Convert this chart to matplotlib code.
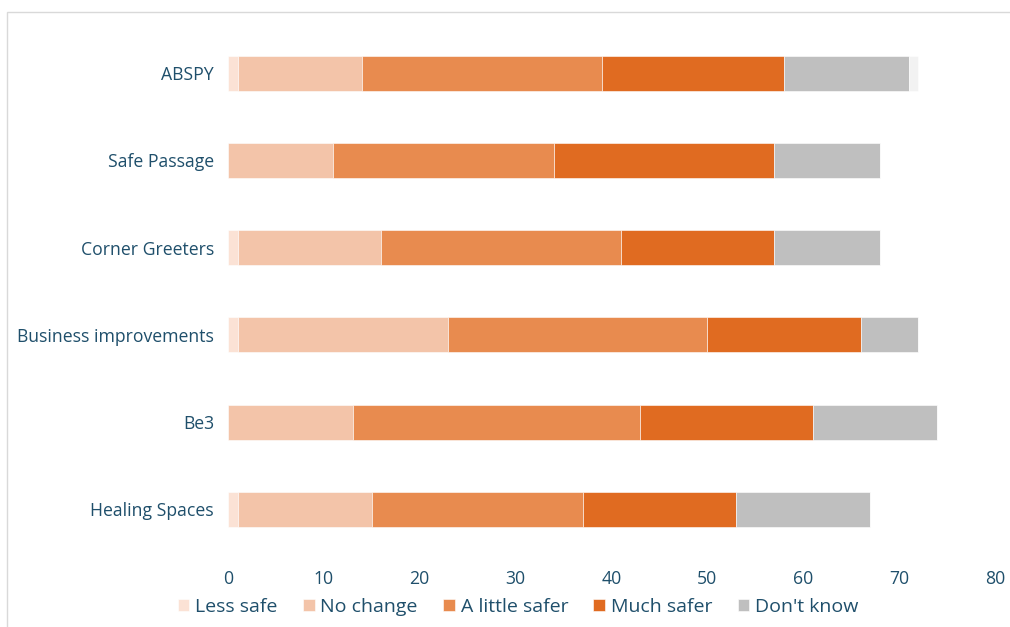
import matplotlib
matplotlib.use("Agg")
import matplotlib.pyplot as plt
from matplotlib.patches import Rectangle
import numpy as np

plt.rcParams['font.family'] = ['Open Sans', 'DejaVu Sans']

programs = ["ABSPY", "Safe Passage", "Corner Greeters", "Business improvements", "Be3", "Healing Spaces"]
less_safe = [1, 0, 1, 1, 0, 1]
no_change = [13, 11, 15, 22, 13, 14]
little_safer = [25, 23, 25, 27, 30, 22]
much_safer = [19, 23, 16, 16, 18, 16]
dont_know = [13, 11, 11, 6, 13, 14]
no_answer = [1, 0, 0, 0, 0, 0]

series = [
    ("Less safe", less_safe, "#fbe2d5"),
    ("No change", no_change, "#f3c4a9"),
    ("A little safer", little_safer, "#e88b4f"),
    ("Much safer", much_safer, "#e06b21"),
    ("Don't know", dont_know, "#bfbfbf"),
    (None, no_answer, "#f2f2f2"),
]

text_color = "#1f4f6b"

fig = plt.figure(figsize=(10.10, 6.27), dpi=100)
ax = fig.add_axes([0.2257, 0.118, 0.7593, 0.835])

y = np.arange(len(programs))
left = np.zeros(len(programs))
handles = []
for label, vals, color in series:
    vals = np.array(vals, dtype=float)
    bars = ax.barh(y, vals, left=left, height=0.4, color=color,
                   edgecolor="white", linewidth=0.4, label=label)
    if label is not None:
        handles.append(bars)
    left += vals

ax.set_xlim(0, 80)
ax.set_ylim(len(programs) - 0.5, -0.5)
ax.set_yticks(y)
ax.set_yticklabels(programs)
ax.set_xticks(np.arange(0, 81, 10))
ax.tick_params(axis="both", length=0, labelsize=12.7, colors=text_color)
ax.tick_params(axis="x", pad=12)
ax.tick_params(axis="y", pad=10)
for s in ax.spines.values():
    s.set_visible(False)

leg = fig.legend(handles=handles, loc="center", bbox_to_anchor=(0.513, 0.032),
                 ncol=5, frameon=False, fontsize=14, handlelength=0.6,
                 handleheight=0.6, handletextpad=0.3, columnspacing=1.3)
for t in leg.get_texts():
    t.set_color(text_color)

# thin frame around the chart area
fig.add_artist(Rectangle((7 / 1010, -0.1), 1.2, 1 - 12 / 627 + 0.1,
                         transform=fig.transFigure, fill=False,
                         edgecolor="#d9d9d9", linewidth=1.0))

fig.savefig("out.png", dpi=100)
